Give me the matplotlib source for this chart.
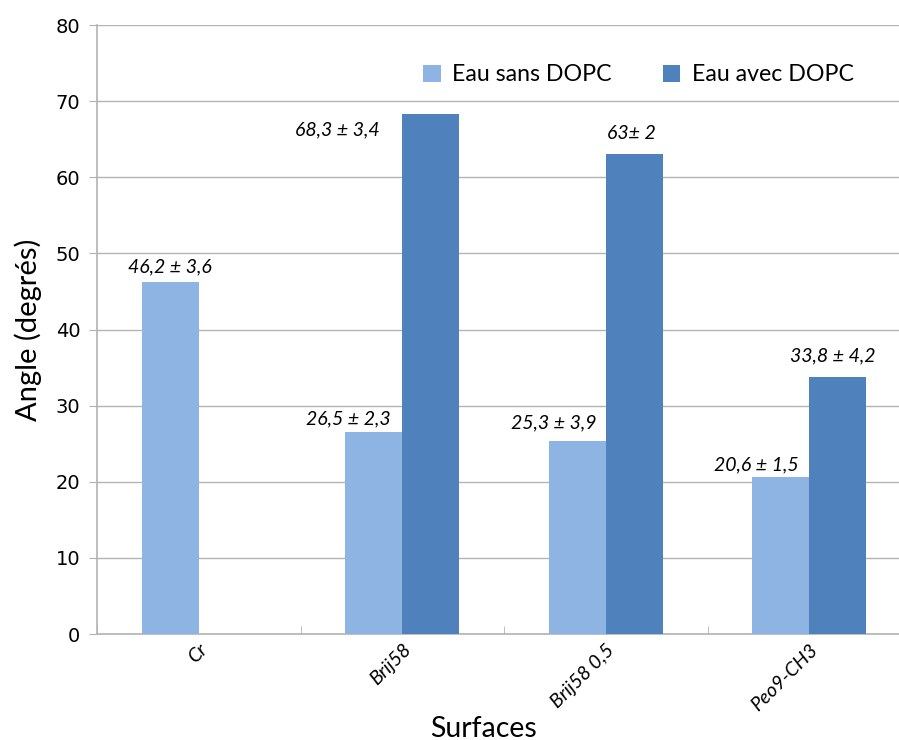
import matplotlib
matplotlib.use("Agg")
import matplotlib.pyplot as plt
import numpy as np

surfaces = ["Cr", "Brij58", "Brij58 0,5", "Peo9-CH3"]
sans_dopc = [46.2, 26.5, 25.3, 20.6]
avec_dopc = [np.nan, 68.3, 63.0, 33.8]
labels_sans = ["46,2 \u00b1 3,6", "26,5 \u00b1 2,3", "25,3 \u00b1 3,9", "20,6 \u00b1 1,5"]
labels_avec = [None, "68,3 \u00b1 3,4", "63\u00b1 2", "33,8 \u00b1 4,2"]

# label placement (x offset from category center, y in data units)
pos_sans = [(-0.14, 48.2), (-0.265, 28.2), (-0.258, 27.7), (-0.26, 22.2)]
pos_avec = [None, (-0.32, 66.2), (0.125, 65.8), (0.113, 36.6)]

light = "#8EB4E3"
dark = "#4F81BD"
grid_col = "#B3B3B3"
fam = ["Lato", "DejaVu Sans"]

fig = plt.figure(figsize=(8.99, 7.40), dpi=100)
ax = fig.add_axes([0.1079, 0.1432, 0.9055, 0.823])

x = np.arange(len(surfaces))
w = 0.28
ax.bar(x - w / 2, sans_dopc, w, color=light, label="Eau sans DOPC", zorder=3)
ax.bar(x + w / 2, avec_dopc, w, color=dark, label="Eau avec DOPC", zorder=3)

lab_font = dict(family=fam, style="italic", fontsize=14,
                ha="center", va="center", zorder=4)
for i in range(len(surfaces)):
    dx, y = pos_sans[i]
    ax.text(i + dx, y, labels_sans[i], **lab_font)
    if labels_avec[i] is not None:
        dx, y = pos_avec[i]
        ax.text(i + dx, y, labels_avec[i], **lab_font)

ax.set_xlim(-0.5, len(surfaces) - 0.5)
ax.set_ylim(0, 80)
ax.set_yticks(np.arange(0, 81, 10))
ax.yaxis.grid(True, color=grid_col, linewidth=1, zorder=0)
ax.set_axisbelow(True)

ax.set_xticks(x)
ax.set_xticklabels(surfaces, rotation=45, ha="right", va="top",
                   rotation_mode="anchor", style="italic", fontsize=14,
                   family=fam)
ax.set_xticks(np.arange(-0.5, len(surfaces), 1), minor=True)
ax.tick_params(axis="x", which="major", length=0, pad=5)
ax.tick_params(axis="x", which="minor", length=6, color=grid_col, direction="in")
ax.tick_params(axis="y", length=6, color=grid_col, labelsize=14, pad=6)
for t in ax.get_yticklabels():
    t.set_family("DejaVu Sans")

for s in ["top", "right"]:
    ax.spines[s].set_visible(False)
for s in ["left", "bottom"]:
    ax.spines[s].set_color(grid_col)
    ax.spines[s].set_linewidth(1.2)

ax.set_ylabel("Angle (degr\u00e9s)", fontsize=21, family=fam)
ax.yaxis.set_label_coords(-0.068, 0.5)
ax.set_xlabel("Surfaces", fontsize=20.5, family=fam)
ax.xaxis.set_label_coords(0.475, -0.134)

ax.legend(loc="center", bbox_to_anchor=(0.665, 0.918), ncol=2, frameon=False,
          prop={"family": fam, "size": 16.7},
          handlelength=0.75, handleheight=0.75, columnspacing=2.2, handletextpad=0.5)

fig.savefig("out.png", dpi=100)
